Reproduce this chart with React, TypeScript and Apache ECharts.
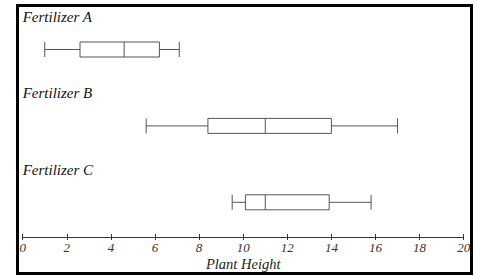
import React, { useEffect, useRef } from "react";
import * as echarts from "echarts";

const categories = ["Fertilizer A", "Fertilizer B", "Fertilizer C"];
// [min, Q1, median, Q3, max]
const fertilizerA = [1, 2.6, 4.6, 6.2, 7.1];
const fertilizerB = [5.6, 8.4, 11, 14, 17];
const fertilizerC = [9.5, 10.1, 11, 13.9, 15.8];
const xMin = 0;
const xMax = 20;
const xInterval = 2;
const xName = "Plant Height";

export default function App() {
  const ref = useRef<HTMLDivElement>(null);
  useEffect(() => {
    if (!ref.current) return;
    const chart = echarts.init(ref.current, null, { renderer: "svg" });
    const serif = "'Liberation Serif', 'Times New Roman', serif";
    const axisCommon = {
      type: "value",
      min: xMin,
      max: xMax,
      interval: xInterval,
      position: "bottom",
      offset: -3.5,
      splitLine: { show: false },
    };
    const frame = {
      type: "rect",
      shape: { x: 17.5, y: 5.5, width: 454, height: 268 },
      style: { fill: "none", stroke: "#000", lineWidth: 3 },
      z: 100,
    };
    chart.setOption({
      animation: false,
      grid: { left: 22.7, right: 13.3, top: 11.3, bottom: 37.5, containLabel: false },
      xAxis: [
        {
          ...axisCommon,
          name: xName,
          nameLocation: "middle",
          nameGap: 19,
          nameMoveOverlap: false,
          nameTextStyle: { fontFamily: serif, fontStyle: "italic", fontSize: 14.5, color: "#222" },
          axisLine: { show: true, lineStyle: { color: "#333", width: 1 } },
          axisTick: { show: true, length: 3, lineStyle: { color: "#333", width: 1 } },
          axisLabel: { margin: 4, fontFamily: serif, fontStyle: "italic", fontSize: 13, color: "#333" },
        },
        {
          ...axisCommon,
          axisLine: { show: false },
          axisTick: { show: true, inside: true, length: 3, lineStyle: { color: "#333", width: 1 } },
          axisLabel: { show: false },
        },
      ],
      yAxis: {
        type: "category",
        data: categories,
        inverse: true,
        axisLine: { show: false },
        axisTick: { show: false },
        splitLine: { show: false },
        axisLabel: { show: false },
      },
      graphic: [frame],
      series: [
        {
          type: "boxplot",
          xAxisIndex: 0,
          boxWidth: [15, 15],
          itemStyle: { color: "#fff", borderColor: "#555", borderWidth: 1 },
          data: [fertilizerA, fertilizerB, fertilizerC],
        },
      ],
    });
    const labelX = chart.convertToPixel({ xAxisIndex: 0 }, xMin) as number;
    const labels = categories.map((c) => {
      const y = chart.convertToPixel({ yAxisIndex: 0 }, c) as number;
      return {
        type: "text",
        x: labelX,
        y: y - 32.5,
        style: {
          text: c,
          fontFamily: serif,
          fontStyle: "italic",
          fontSize: 15,
          fill: "#111",
          verticalAlign: "middle",
          align: "left",
        },
      };
    });
    chart.setOption({ graphic: [frame, ...labels] }, { replaceMerge: ["graphic"] });
    return () => chart.dispose();
  }, []);
  return (
    <div
      ref={ref}
      style={{ position: "absolute", left: 0, top: 0, width: 477, height: 278, background: "#fff" }}
    />
  );
}
